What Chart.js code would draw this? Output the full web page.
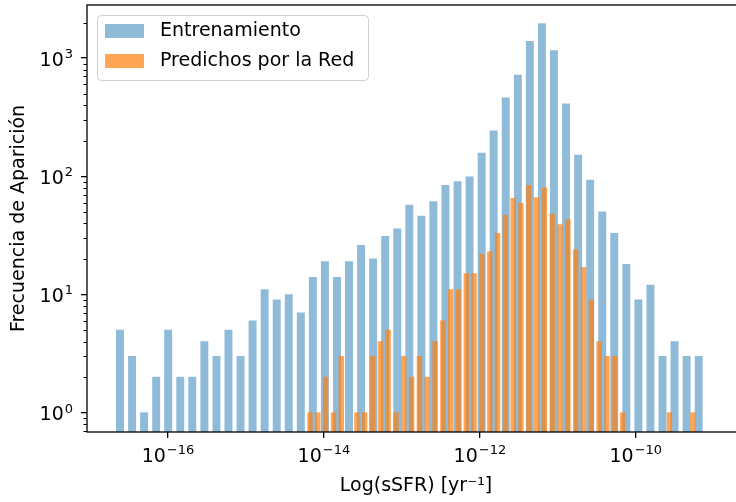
<!DOCTYPE html>
<html>
<head>
<meta charset="utf-8">
<script src="https://cdn.jsdelivr.net/npm/chart.js@4.4.1/dist/chart.umd.min.js"></script>
<style>
  html, body { margin: 0; padding: 0; background: #fff; overflow: hidden; }
  #wrap { width: 750px; height: 502px; }
</style>
</head>
<body>
<div id="wrap"><canvas id="chart1" width="750" height="502"></canvas></div>
<script>
// log10 of bin centres (training set, 49 bins)
const trainBins = [
    -16.615, -16.460, -16.306, -16.151, -15.997, -15.842, -15.688, -15.533, -15.378, -15.224,
    -15.069, -14.915, -14.760, -14.605, -14.451, -14.296, -14.142, -13.987, -13.832, -13.678,
    -13.523, -13.369, -13.214, -13.059, -12.905, -12.750, -12.596, -12.441, -12.286, -12.132,
    -11.977, -11.823, -11.668, -11.513, -11.359, -11.204, -11.050, -10.895, -10.740, -10.586,
    -10.431, -10.277, -10.122, -9.967, -9.813, -9.658, -9.504, -9.349, -9.194
];
const trainCounts = [
    5, 3, 1, 2, 5, 2, 2, 4, 3, 5,
    3, 6, 11, 9, 10, 7, 14, 19, 14, 19,
    26, 20, 31, 36, 57, 46, 61, 84, 90, 99,
    157, 243, 462, 719, 1384, 1954, 1155, 411, 151, 93,
    50, 33, 18, 9, 12, 3, 4, 3, 3
];

// log10 of bin centres (network predictions, 50 bins)
const predBins = [
    -14.178, -14.078, -13.978, -13.877, -13.777, -13.677, -13.577, -13.477, -13.376, -13.276,
    -13.176, -13.076, -12.976, -12.875, -12.775, -12.675, -12.575, -12.475, -12.374, -12.274,
    -12.174, -12.074, -11.974, -11.873, -11.773, -11.673, -11.573, -11.473, -11.372, -11.272,
    -11.172, -11.072, -10.972, -10.871, -10.771, -10.671, -10.571, -10.471, -10.370, -10.270,
    -10.170, -10.070, -9.970, -9.869, -9.769, -9.669, -9.569, -9.469, -9.368, -9.268
];
const predCounts = [
    1, 1, 2, 1, 3, 0, 1, 1, 3, 4,
    5, 1, 3, 2, 3, 2, 4, 6, 11, 11,
    15, 15, 22, 23, 33, 47, 65, 59, 84, 66,
    80, 48, 39, 43, 24, 17, 9, 4, 3, 3,
    1, 0, 0, 0, 0, 0, 1, 0, 0, 1
];

const xTickExps = [-16, -14, -12, -10];
const yTickExps = [0, 1, 2, 3];

const FONT = 'DejaVu Sans';
Chart.defaults.font.family = FONT;
Chart.defaults.color = '#000';

function toPoints(bins, counts) {
    return counts.map((c, i) => ({ x: bins[i], y: c > 0 ? c : null }));
}

// "10" with a raised exponent, like matplotlib's mathtext labels
function drawPow(ctx, e, x, baseline, align) {
    const sup = (e < 0 ? '\u2212' : '') + Math.abs(e);
    ctx.font = '19px "' + FONT + '"';
    const w1 = ctx.measureText('10').width;
    ctx.font = '13px "' + FONT + '"';
    const w2 = ctx.measureText(sup).width;
    const total = w1 + 1 + w2;
    const x0 = align === 'right' ? x - total : x - total / 2;
    ctx.textAlign = 'left';
    ctx.textBaseline = 'alphabetic';
    ctx.fillStyle = '#000';
    ctx.font = '19px "' + FONT + '"';
    ctx.fillText('10', x0, baseline);
    ctx.font = '13px "' + FONT + '"';
    ctx.fillText(sup, x0 + w1 + 1, baseline - 7.7);
}

const powLabels = {
    id: 'powLabels',
    afterDraw(chart) {
        const ctx = chart.ctx;
        const {left, bottom} = chart.chartArea;
        ctx.save();
        xTickExps.forEach(e => {
            drawPow(ctx, e, chart.scales.x.getPixelForValue(e), bottom + 29.7, 'center');
        });
        yTickExps.forEach(e => {
            drawPow(ctx, e, left - 14, chart.scales.y.getPixelForValue(Math.pow(10, e)) + 7.7, 'right');
        });
        ctx.restore();
    }
};

// small ticks between decades on the y axis
const minorTicks = {
    id: 'minorTicks',
    afterDraw(chart) {
        const y = chart.scales.y;
        const ctx = chart.ctx;
        const left = chart.chartArea.left;
        ctx.save();
        ctx.strokeStyle = '#000';
        ctx.lineWidth = 1;
        for (let d = -1; d <= 3; d++) {
            for (let m = 2; m <= 9; m++) {
                const v = m * Math.pow(10, d);
                if (v < y.min || v > y.max) continue;
                const py = Math.round(y.getPixelForValue(v)) + 0.5;
                ctx.beginPath();
                ctx.moveTo(left - 3.5, py);
                ctx.lineTo(left, py);
                ctx.stroke();
            }
        }
        ctx.restore();
    }
};

// axes box on top of the bars
const frame = {
    id: 'frame',
    afterDatasetsDraw(chart) {
        const {left, top, right, bottom} = chart.chartArea;
        const ctx = chart.ctx;
        ctx.save();
        ctx.strokeStyle = '#000';
        ctx.lineWidth = 1.3;
        ctx.strokeRect(left, top, right - left, bottom - top);
        ctx.restore();
    }
};

// legend box in the upper left corner
const boxLegend = {
    id: 'boxLegend',
    afterDraw(chart) {
        const ctx = chart.ctx;
        const bx = chart.chartArea.left + 10;
        const by = chart.chartArea.top + 10;
        const bw = 271, bh = 65;
        ctx.save();
        ctx.beginPath();
        ctx.roundRect(bx + 0.5, by + 0.5, bw, bh, 4);
        ctx.fillStyle = 'rgba(255,255,255,0.8)';
        ctx.fill();
        ctx.strokeStyle = '#d0d0d0';
        ctx.lineWidth = 1;
        ctx.stroke();
        ctx.font = '19px "' + FONT + '"';
        ctx.textBaseline = 'middle';
        ctx.textAlign = 'left';
        chart.data.datasets.forEach((ds, i) => {
            const py = by + 9 + i * 30;
            ctx.fillStyle = ds.backgroundColor;
            ctx.fillRect(bx + 8, py, 39, 14);
            ctx.fillStyle = '#000';
            ctx.fillText(ds.label, bx + 63, py + 7.5);
        });
        ctx.restore();
    }
};

const chart1 = new Chart(document.getElementById('chart1').getContext('2d'), {
    type: 'bar',
    data: {
        datasets: [{
            label: 'Entrenamiento',
            data: toPoints(trainBins, trainCounts),
            backgroundColor: 'rgba(31,119,180,0.5)',
            barThickness: 7.3,
            grouped: false,
            order: 1
        }, {
            label: 'Predichos por la Red',
            data: toPoints(predBins, predCounts),
            backgroundColor: 'rgba(255,127,14,0.7)',
            barThickness: 4.7,
            grouped: false,
            order: 0
        }]
    },
    options: {
        responsive: false,
        animation: false,
        layout: { padding: { top: 5, right: 5, left: 0, bottom: 0 } },
        plugins: {
            legend: { display: false },
            tooltip: { enabled: false }
        },
        scales: {
            x: {
                type: 'linear',
                position: 'bottom',
                offset: false,
                min: -17.038,
                max: -8.60,
                afterBuildTicks: s => { s.ticks = xTickExps.map(v => ({ value: v })); },
                afterFit: s => { s.height = 70; s.paddingLeft = 0; s.paddingRight = 0; },
                ticks: { display: false, autoSkip: false },
                grid: { offset: false, drawOnChartArea: false, drawTicks: true, tickLength: 6, color: '#000', lineWidth: 1.3 },
                border: { display: false },
                title: {
                    display: true,
                    text: 'Log(sSFR) [yr⁻¹]',
                    font: { size: 19 },
                    color: '#000',
                    padding: { top: 0, bottom: 5 }
                }
            },
            y: {
                type: 'logarithmic',
                min: 0.6866,
                max: 2813,
                afterBuildTicks: s => { s.ticks = yTickExps.map(e => ({ value: Math.pow(10, e), major: true })); },
                afterFit: s => { s.width = 87; s.paddingTop = 0; s.paddingBottom = 0; },
                ticks: { display: false, autoSkip: false },
                grid: { drawOnChartArea: false, drawTicks: true, tickLength: 6, color: '#000', lineWidth: 1.3 },
                border: { display: false },
                title: {
                    display: true,
                    text: 'Frecuencia de Aparición',
                    font: { size: 19 },
                    color: '#000',
                    padding: { top: 8, bottom: 0 }
                }
            }
        }
    },
    plugins: [minorTicks, frame, powLabels, boxLegend]
});
</script>
</body>
</html>
